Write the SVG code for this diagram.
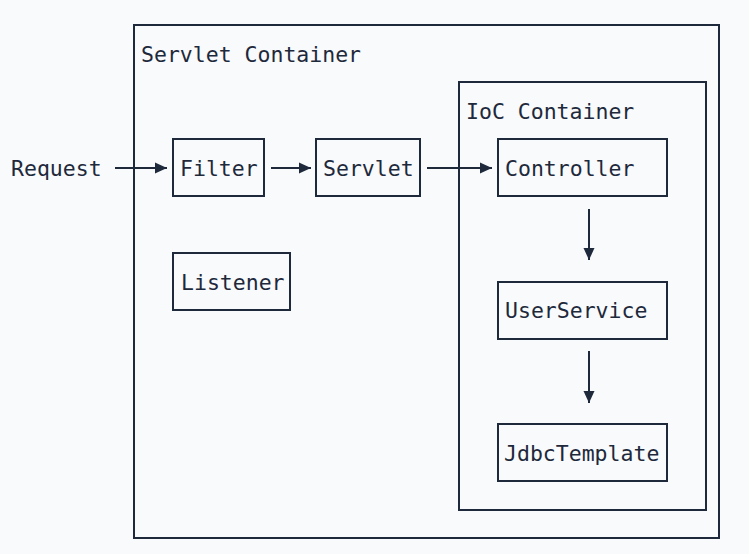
<svg xmlns="http://www.w3.org/2000/svg" width="749" height="554" viewBox="0 0 749 554">
<style>
.bg{fill:#f8fafc}
.box{fill:none;stroke:#1e293b;stroke-width:2}
.node{fill:#f8fafc;stroke:#1e293b;stroke-width:2}
.lbl{font-family:"DejaVu Sans Mono","Liberation Mono",monospace;font-size:21.5px;fill:#1e293b}
.edge{stroke:#1e293b;stroke-width:2;fill:none;marker-end:url(#ah)}
</style>
<defs>
<marker id="ah" markerWidth="12" markerHeight="12" refX="12" refY="6" orient="auto" markerUnits="userSpaceOnUse">
<path d="M0,0.5 L12,6 L0,11.5 Z" fill="#1e293b"/>
</marker>
</defs>
<rect class="bg" x="0" y="0" width="749" height="554"/>
<g id="servlet-container">
<rect class="box" x="134" y="25" width="585" height="513"/>
<text class="lbl" x="141" y="62">Servlet Container</text>
</g>
<g id="ioc-container">
<rect class="box" x="459" y="82" width="247" height="428"/>
<text class="lbl" x="466" y="119">IoC Container</text>
</g>
<g id="request">
<text class="lbl" x="11" y="176">Request</text>
</g>
<g id="filter">
<rect class="node" x="173" y="139" width="91" height="57"/>
<text class="lbl" x="180" y="176">Filter</text>
</g>
<g id="servlet">
<rect class="node" x="316" y="139" width="104" height="57"/>
<text class="lbl" x="323" y="176">Servlet</text>
</g>
<g id="listener">
<rect class="node" x="173" y="253" width="117" height="57"/>
<text class="lbl" x="181" y="290">Listener</text>
</g>
<g id="controller">
<rect class="node" x="498" y="139" width="169" height="57"/>
<text class="lbl" x="505" y="176">Controller</text>
</g>
<g id="userservice">
<rect class="node" x="498" y="282" width="169" height="57"/>
<text class="lbl" x="505" y="318">UserService</text>
</g>
<g id="jdbctemplate">
<rect class="node" x="498" y="424" width="169" height="57"/>
<text class="lbl" x="504" y="461">JdbcTemplate</text>
</g>
<g id="connectors">
<line class="edge" x1="115" y1="168" x2="167" y2="168"/>
<line class="edge" x1="271" y1="168" x2="311" y2="168"/>
<line class="edge" x1="427" y1="168" x2="492" y2="168"/>
<line class="edge" x1="589" y1="209" x2="589" y2="260"/>
<line class="edge" x1="589" y1="351" x2="589" y2="403"/>
</g>
</svg>
